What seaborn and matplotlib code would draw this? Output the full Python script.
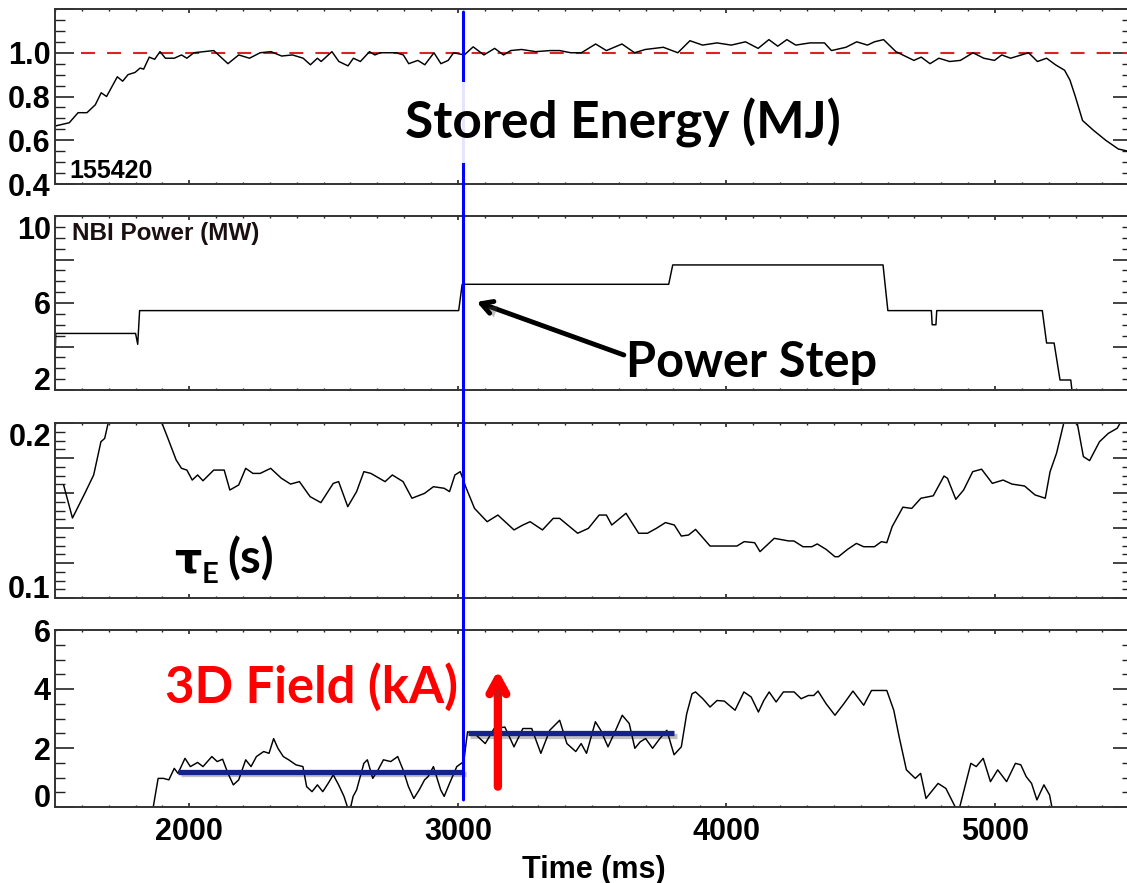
import seaborn as sns
import matplotlib.pyplot as plt
import matplotlib.patheffects as pe
from matplotlib.patches import ConnectionPatch
from matplotlib.ticker import MultipleLocator

# ---- data (time in ms) ----
energy_t = [1500, 1553, 1586, 1619, 1650, 1672, 1692, 1732, 1752, 1772, 1798, 1817, 1830, 1851, 1871, 1891,
            1911, 1944, 1971, 1991, 2017, 2091, 2144, 2184, 2224, 2264, 2304, 2344, 2384, 2424, 2451, 2477,
            2491, 2531, 2557, 2591, 2611, 2637, 2671, 2691, 2711, 2770, 2797, 2817, 2851, 2877, 2911, 2937,
            2964, 2984, 3024, 3057, 3097, 3137, 3170, 3197, 3237, 3290, 3344, 3379, 3420, 3460, 3513, 3553,
            3611, 3658, 3698, 3765, 3819, 3864, 3911, 3965, 4018, 4071, 4118, 4158, 4191, 4225, 4258, 4311,
            4365, 4391, 4445, 4485, 4525, 4551, 4585, 4631, 4698, 4725, 4758, 4791, 4831, 4871, 4918, 4958,
            4998, 5025, 5058, 5098, 5125, 5158, 5192, 5225, 5259, 5279, 5299, 5326, 5366, 5412, 5459, 5495]
energy_mj = [0.665, 0.68, 0.726, 0.726, 0.762, 0.817, 0.80, 0.89, 0.87, 0.90, 0.91, 0.93, 0.925, 0.98, 0.97, 1.005,
             0.975, 0.975, 0.99, 0.975, 1.0, 1.01, 0.95, 0.99, 0.975, 1.0, 1.005, 0.985, 0.99, 0.975, 0.945, 0.975,
             0.96, 1.005, 0.96, 0.94, 0.975, 0.96, 1.005, 0.99, 1.0, 1.0, 0.99, 0.95, 0.965, 0.945, 1.0, 0.95,
             0.965, 1.0, 0.99, 1.027, 0.99, 1.02, 0.99, 1.01, 1.015, 1.005, 1.01, 1.01, 1.0, 1.0, 1.04, 1.01,
             1.04, 1.0, 1.015, 1.025, 1.0, 1.055, 1.035, 1.045, 1.035, 1.05, 1.02, 1.06, 1.03, 1.06, 1.035, 1.045,
             1.045, 1.01, 1.025, 1.05, 1.035, 1.05, 1.06, 1.005, 0.965, 0.98, 0.95, 0.975, 0.96, 0.965, 1.0, 0.975,
             0.965, 0.99, 0.975, 0.99, 1.0, 0.96, 0.975, 0.945, 0.92, 0.875, 0.80, 0.69, 0.646, 0.60, 0.56, 0.55]

nbi_t = [1500, 1503, 1800, 1808, 1815, 3003, 3016, 3785, 3800, 4583, 4601, 4763, 4766, 4780, 4783,
         5176, 5192, 5220, 5242, 5282, 5291]
nbi_mw = [3.3, 4.6, 4.6, 4.1, 5.65, 5.65, 6.86, 6.86, 7.75, 7.75, 5.65, 5.65, 5.0, 5.0, 5.65,
          5.65, 4.16, 4.16, 2.46, 2.46, 1.5]

tau_t = [1532, 1565, 1611, 1644, 1671, 1685, 1698, 1720, 1870, 1898, 1918, 1951, 1971, 1991, 2011, 2031,
         2051, 2091, 2130, 2151, 2184, 2210, 2237, 2264, 2303, 2343, 2377, 2410, 2450, 2490, 2536, 2556,
         2590, 2623, 2650, 2676, 2729, 2756, 2796, 2829, 2876, 2909, 2949, 2969, 2989, 3009, 3029, 3062,
         3109, 3149, 3209, 3242, 3269, 3315, 3355, 3379, 3446, 3486, 3526, 3553, 3573, 3626, 3673, 3706,
         3739, 3773, 3806, 3832, 3859, 3885, 3939, 4039, 4066, 4105, 4125, 4178, 4232, 4251, 4285, 4318,
         4338, 4371, 4404, 4417, 4451, 4484, 4511, 4551, 4577, 4597, 4617, 4657, 4690, 4724, 4770, 4810,
         4823, 4854, 4883, 4917, 4950, 4990, 5030, 5063, 5110, 5149, 5187, 5205, 5229, 5256, 5275, 5295,
         5306, 5329, 5352, 5389, 5422, 5455, 5466, 5495]
tau_s = [0.1646, 0.1457, 0.1598, 0.1703, 0.1893, 0.1912, 0.2, 0.215, 0.215, 0.2, 0.1922, 0.1789, 0.1741, 0.1731, 0.1674, 0.1703,
         0.1670, 0.1731, 0.1731, 0.1617, 0.1646, 0.1741, 0.1712, 0.1712, 0.1741, 0.1684, 0.1651, 0.1665, 0.1579, 0.1545, 0.1655, 0.1665,
         0.1522, 0.1608, 0.1722, 0.1712, 0.1665, 0.1703, 0.1665, 0.1570, 0.1598, 0.1636, 0.1627, 0.1608, 0.1703, 0.1722, 0.1636, 0.1512,
         0.1436, 0.1474, 0.1389, 0.1417, 0.1436, 0.1389, 0.1455, 0.1455, 0.1370, 0.1398, 0.1474, 0.1474, 0.1417, 0.1484, 0.1370, 0.1370,
         0.1398, 0.1431, 0.1417, 0.1354, 0.1360, 0.1392, 0.1297, 0.1297, 0.1322, 0.1316, 0.1265, 0.1341, 0.1326, 0.1326, 0.1293, 0.1293,
         0.1309, 0.1278, 0.1236, 0.1236, 0.1278, 0.1312, 0.1293, 0.1293, 0.1322, 0.1316, 0.1408, 0.1519, 0.1512, 0.1570, 0.1584, 0.1697,
         0.1684, 0.1564, 0.1617, 0.1722, 0.1736, 0.1655, 0.1674, 0.1651, 0.1640, 0.1589, 0.1570, 0.1722, 0.1827, 0.2, 0.21, 0.21,
         0.2, 0.1808, 0.1785, 0.1893, 0.1941, 0.1970, 0.2, 0.205]

coil_t = [1862, 1884, 1904, 1924, 1944, 1958, 1984, 2004, 2031, 2051, 2084, 2104, 2124, 2144, 2164, 2184,
          2210, 2230, 2250, 2277, 2297, 2314, 2330, 2350, 2370, 2397, 2423, 2437, 2457, 2477, 2497, 2517,
          2536, 2556, 2576, 2596, 2610, 2623, 2650, 2663, 2683, 2703, 2723, 2750, 2776, 2796, 2816, 2836,
          2856, 2876, 2889, 2909, 2936, 2949, 2969, 2996, 3022, 3036, 3069, 3102, 3135, 3175, 3209, 3242,
          3275, 3309, 3342, 3379, 3406, 3439, 3459, 3479, 3512, 3532, 3559, 3585, 3612, 3638, 3659, 3679,
          3699, 3725, 3752, 3778, 3805, 3832, 3852, 3872, 3885, 3912, 3939, 3965, 3992, 4032, 4065, 4092,
          4119, 4139, 4159, 4185, 4212, 4252, 4278, 4305, 4325, 4341, 4371, 4404, 4437, 4471, 4511, 4540,
          4597, 4623, 4643, 4670, 4703, 4723, 4743, 4763, 4788, 4817, 4863, 4883, 4910, 4930, 4956, 4983,
          5010, 5043, 5076, 5096, 5116, 5136, 5156, 5182, 5203, 5216]
coil_ka = [-0.2, 0.97, 0.97, 0.92, 1.31, 1.14, 1.65, 1.37, 1.51, 1.37, 1.71, 1.54, 1.62, 1.14, 0.75, 0.92,
           1.60, 1.37, 1.71, 1.88, 1.82, 2.32, 1.99, 1.71, 1.60, 1.43, 1.37, 0.69, 0.52, 0.75, 0.52, 0.80,
           1.09, 0.75, 0.36, -0.2, 0.36, 0.58, 1.48, 1.60, 0.97, 1.26, 1.60, 1.54, 1.71, 1.26, 0.69, 0.29,
           0.58, 0.92, 1.03, 1.37, 0.58, 0.36, 0.80, 1.37, 1.54, 2.55, 2.43, 2.15, 2.66, 2.71, 2.04, 2.66,
           2.66, 1.82, 2.60, 2.94, 2.15, 1.88, 2.15, 1.82, 2.89, 2.60, 2.04, 2.55, 3.11, 2.83, 1.99, 2.21,
           2.32, 1.99, 2.32, 2.60, 1.77, 2.04, 3.16, 3.84, 3.90, 3.67, 3.39, 3.61, 3.59, 3.28, 3.90, 3.73,
           3.22, 3.61, 3.90, 3.56, 3.90, 3.90, 3.67, 3.78, 3.78, 3.93, 3.50, 3.11, 3.50, 3.93, 3.45, 3.95,
           3.95, 3.28, 2.38, 1.26, 0.97, 1.14, 0.29, 0.52, 0.80, 0.63, -0.2, 0.52, 1.48, 1.37, 1.65, 0.86,
           1.26, 0.86, 1.48, 1.43, 1.03, 0.80, 0.24, 0.75, 0.41, -0.2]

# 3D field levels before / after the power step
low_t = [1958, 3021]
low_ka = [1.2, 1.2]
high_t = [3036, 3805]
high_ka = [2.5, 2.5]

t_step = 3021

# ---- style ----
sns.set_style("ticks")
plt.rcParams['font.family'] = ['Liberation Sans', 'DejaVu Sans']
plt.rcParams['font.weight'] = 'bold'
plt.rcParams['text.color'] = 'black'
plt.rcParams['axes.labelcolor'] = 'black'
plt.rcParams['xtick.color'] = 'black'
plt.rcParams['ytick.color'] = 'black'
plt.rcParams['axes.linewidth'] = 1.4
plt.rcParams['axes.edgecolor'] = '#333333'

fig = plt.figure(figsize=(11.27, 8.83), dpi=100)
W, H = 1127.0, 883.0
left, right = 55, 1132
panels = [(9, 184), (216, 390), (423, 598), (630, 807)]
axes = [fig.add_axes([left / W, 1 - b / H, (right - left) / W, (b - t) / H]) for t, b in panels]
ax1, ax2, ax3, ax4 = axes

for ax in axes:
    ax.set_xlim(1500, 5510)
    ax.xaxis.set_major_locator(MultipleLocator(1000))
    ax.xaxis.set_minor_locator(MultipleLocator(100))
    ax.tick_params(axis='both', which='both', direction='in', top=True, right=True, color='#222222')
    ax.tick_params(axis='y', which='major', length=13.5, width=1.2, labelsize=22, pad=3)
    ax.tick_params(axis='y', which='minor', length=7, width=1.0)
    ax.tick_params(axis='x', which='major', length=3, width=1.2, labelsize=22, pad=7)
    ax.tick_params(axis='x', which='minor', length=1.5, width=1.0)
    if ax is not ax4:
        ax.tick_params(axis='x', labelbottom=False)

line_kw = dict(color='black', lw=1.05, estimator=None, sort=False)

# stored energy
sns.lineplot(x=energy_t, y=energy_mj, ax=ax1, **line_kw)
ax1.axhline(1.0, xmin=0.024, color='#dd2222', lw=1.5, ls=(0, (6.7, 5.8)), zorder=1)
ax1.set_ylim(0.4, 1.2)
ax1.set_yticks([0.4, 0.6, 0.8, 1.0, 1.2], ['0.4', '0.6', '0.8', '1.0', ''])
ax1.yaxis.set_minor_locator(MultipleLocator(0.05))
ax1.text(1553, 0.427, '155420', fontsize=18, fontweight='bold')

# NBI power
sns.lineplot(x=nbi_t, y=nbi_mw, ax=ax2, **line_kw)
ax2.set_ylim(2, 10)
ax2.set_yticks([2, 4, 6, 8, 10], ['2', '', '6', '', '10'])
ax2.yaxis.set_minor_locator(MultipleLocator(0.5))
ax2.text(1564, 8.9, 'NBI Power (MW)', fontsize=17.5, fontweight='bold', color='#1a1010')

# confinement time
sns.lineplot(x=tau_t, y=tau_s, ax=ax3, **line_kw)
ax3.set_ylim(0.1, 0.2)
ax3.set_yticks([0.1, 0.12, 0.14, 0.16, 0.18, 0.2], ['0.1', '', '', '', '', '0.2'])
ax3.yaxis.set_minor_locator(MultipleLocator(0.005))

# 3D field coil current
sns.lineplot(x=coil_t, y=coil_ka, ax=ax4, **line_kw)
shadow = [pe.SimpleLineShadow(offset=(2, -2), alpha=0.25), pe.Normal()]
for xs, ys in [(low_t, low_ka), (high_t, high_ka)]:
    sns.lineplot(x=xs, y=ys, ax=ax4, color='#14238c', lw=3.8, estimator=None,
                 solid_capstyle='butt', path_effects=shadow)
ax4.set_ylim(0, 6)
ax4.set_yticks([0, 2, 4, 6], ['0', '2', '4', '6'])
ax4.yaxis.set_minor_locator(MultipleLocator(0.5))
ax4.set_xticks([2000, 3000, 4000, 5000], ['2000', '3000', '4000', '5000'])
ax4.set_xlabel('Time (ms)', fontsize=22, fontweight='bold', labelpad=6)

for ax in axes:
    ax.set_ylabel('')
    if ax is not ax4:
        ax.set_xlabel('')
    for lab in ax.get_yticklabels() + ax.get_xticklabels():
        lab.set_fontweight('bold')

# shift end labels inward like the original
ax2.get_yticklabels()[-1].set_va('top')
ax2.get_yticklabels()[0].set_va('baseline')
ax3.get_yticklabels()[-1].set_va('top')
ax3.get_yticklabels()[0].set_va('baseline')
ax4.get_yticklabels()[0].set_va('baseline')

# vertical marker at the power step, across all panels
con = ConnectionPatch(xyA=(t_step, 1.186), coordsA=ax1.transData,
                      xyB=(t_step, 0.24), coordsB=ax4.transData,
                      color='#0000ff', lw=2.2, zorder=3)
fig.add_artist(con)

# annotations
big = dict(family=['Lato', 'DejaVu Sans'], fontweight='bold')
fig.text(3614, 0.61, 'Stored Energy (MJ)', transform=ax1.transData, fontsize=37, ha='center',
         va='baseline', zorder=5, bbox=dict(boxstyle='square,pad=0.3', fc='white', ec='none', alpha=0.9), **big)

ax2.annotate('', xy=(3070, 6.05), xytext=(3618, 3.61),
             arrowprops=dict(arrowstyle='->,head_length=0.8,head_width=0.45', lw=3.5, color='black',
                             shrinkA=0, shrinkB=0,
                             path_effects=[pe.withSimplePatchShadow(offset=(3, -3), alpha=0.35)]))
ax2.text(3625, 2.6, 'Power Step', fontsize=35, va='baseline', **big)

ax3.text(1944, 0.1143, 'τ', fontsize=31, fontweight='bold', family='DejaVu Sans', va='baseline')
ax3.annotate('E', xy=(1944, 0.1143), xytext=(20, -7), textcoords='offset points',
             fontsize=21, va='baseline', **big)
ax3.annotate('(s)', xy=(1944, 0.1143), xytext=(38, 0), textcoords='offset points',
             fontsize=34, va='baseline', **big)

ax4.text(1911, 3.53, '3D Field (kA)', fontsize=36.5, color='#ff0000', va='baseline', **big)
ax4.annotate('', xy=(3149, 4.64), xytext=(3149, 0.69),
             arrowprops=dict(arrowstyle='->,head_length=1.1,head_width=0.6', lw=6, color='#ff0000',
                             shrinkA=0, shrinkB=0,
                             path_effects=[pe.withSimplePatchShadow(offset=(2, -2), alpha=0.25)]))

fig.savefig('out.png', dpi=100)
